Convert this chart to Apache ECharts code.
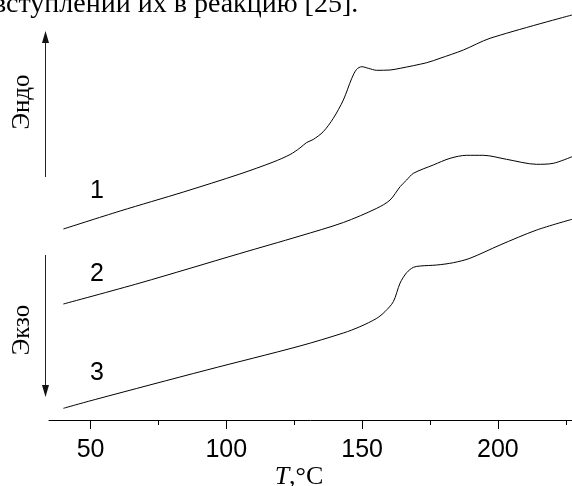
<!DOCTYPE html>
<html>
<head>
<meta charset="utf-8">
<style>
html,body{margin:0;padding:0;background:#fff;}
#chart{width:572px;height:486px;}
</style>
<script src="https://cdn.jsdelivr.net/npm/echarts@6/dist/echarts.min.js"></script>
</head>
<body>
<div id="chart"></div>
<script>
// Temperature (°C) and DSC signal (arbitrary units, endo up)
var temps1 = [40.0, 60.9, 84.2, 105.0, 117.3, 123.5, 127.1, 129.6, 132.0, 135.7, 139.4, 143.1, 146.2, 148.0, 149.9, 152.3, 155.4, 160.3, 164.0, 173.8, 178.7, 187.3, 197.1, 227.3];
var dsc1   = [191, 209, 228, 246, 258, 265.5, 272, 277.5, 280.5, 288.3, 301.7, 320, 341.7, 350.7, 353.3, 351.7, 349.7, 350, 351.7, 357.3, 361.7, 370, 381.7, 405];

var temps2 = [40.0, 68.2, 105.0, 127.1, 143.1, 155.4, 160.3, 164.0, 166.4, 168.9, 176.2, 182.4, 188.5, 194.6, 203.2, 214.3, 220.4, 227.3];
var dsc2   = [116, 137, 166.5, 184, 197.5, 211.7, 220, 233.3, 240, 246.7, 255, 261.7, 264.7, 264.7, 260.7, 255.7, 256.7, 263.3];

var temps3 = [40.0, 51.7, 92.8, 127.1, 143.1, 149.2, 155.4, 158.4, 161.5, 164.0, 166.4, 168.9, 171.4, 177.5, 183.6, 189.7, 200.8, 214.3, 227.3];
var dsc3   = [11.7, 20.5, 50, 74, 87, 93.3, 101.7, 108.3, 118.3, 137, 147.3, 152.7, 154, 155, 157.3, 161.7, 175, 190, 200.7];

var majorTicks = [50, 100, 150, 200];
var minorTicks = [75, 125, 175, 225];
var curveLabels = ['1', '2', '3'];

function pairs(xs, ys) {
  var out = [];
  for (var i = 0; i < xs.length; i++) out.push([xs[i], ys[i]]);
  return out;
}

var chart = echarts.init(document.getElementById('chart'), null, {renderer: 'canvas'});
var lineStyle = {color: '#000', width: 1};
var sans = '"Liberation Sans", Arial, sans-serif';
var serif = '"Liberation Serif", "Times New Roman", serif';

chart.setOption({
  animation: false,
  backgroundColor: '#fff',
  grid: {left: 49, right: 0, top: 0, bottom: 66, containLabel: false},
  xAxis: [{
    type: 'value', min: 34.7, max: 227.3, position: 'bottom',
    axisLine: {show: true, lineStyle: {color: '#000', width: 1}},
    axisTick: {show: true, customValues: majorTicks, length: 9, inside: false, lineStyle: {color: '#000', width: 1}},
    axisLabel: {show: true, customValues: majorTicks, margin: 18, fontSize: 25, fontFamily: sans, color: '#000'},
    splitLine: {show: false}
  }, {
    type: 'value', min: 34.7, max: 227.3, position: 'bottom', gridIndex: 0,
    axisLine: {show: false},
    axisTick: {show: true, customValues: minorTicks, length: 5, inside: false, lineStyle: {color: '#000', width: 1}},
    axisLabel: {show: false},
    splitLine: {show: false}
  }],
  yAxis: {type: 'value', min: 0, max: 420, show: false, splitLine: {show: false}},
  series: [
    {type: 'line', data: pairs(temps1, dsc1), smooth: 0.3, showSymbol: false, lineStyle: lineStyle},
    {type: 'line', data: pairs(temps2, dsc2), smooth: 0.3, showSymbol: false, lineStyle: lineStyle},
    {type: 'line', data: pairs(temps3, dsc3), smooth: 0.3, showSymbol: false, lineStyle: lineStyle}
  ],
  graphic: [
    {type: 'text', left: -7, top: -9, style: {text: 'вступлении их в реакцию [25].', font: '28px ' + serif, fill: '#000'}},
    {type: 'text', x: 299, y: 477.5, style: {text: '{i|T},°C', font: '26px ' + serif, fill: '#000', align: 'center', verticalAlign: 'middle', rich: {i: {fontStyle: 'italic', fontFamily: serif, fontSize: 26}}}},
    {type: 'line', shape: {x1: 45.5, y1: 177, x2: 45.5, y2: 40}, style: {stroke: '#222', lineWidth: 1}},
    {type: 'polygon', shape: {points: [[45.5, 31], [42, 43], [49, 43]]}, style: {fill: '#111'}},
    {type: 'line', shape: {x1: 45.5, y1: 255, x2: 45.5, y2: 388}, style: {stroke: '#222', lineWidth: 1}},
    {type: 'polygon', shape: {points: [[45.5, 397], [42, 385], [49, 385]]}, style: {fill: '#111'}},
    {type: 'text', x: 22, y: 102, rotation: Math.PI / 2, style: {text: 'Эндо', font: '25px ' + serif, fill: '#000', align: 'center', verticalAlign: 'middle'}},
    {type: 'text', x: 22, y: 330, rotation: Math.PI / 2, style: {text: 'Экзо', font: '25px ' + serif, fill: '#000', align: 'center', verticalAlign: 'middle'}},
    {type: 'text', x: 97, y: 191, style: {text: curveLabels[0], font: '25px ' + sans, fill: '#000', align: 'center', verticalAlign: 'middle'}},
    {type: 'text', x: 97, y: 274, style: {text: curveLabels[1], font: '25px ' + sans, fill: '#000', align: 'center', verticalAlign: 'middle'}},
    {type: 'text', x: 97, y: 373.5, style: {text: curveLabels[2], font: '25px ' + sans, fill: '#000', align: 'center', verticalAlign: 'middle'}}
  ]
});
</script>
</body>
</html>
